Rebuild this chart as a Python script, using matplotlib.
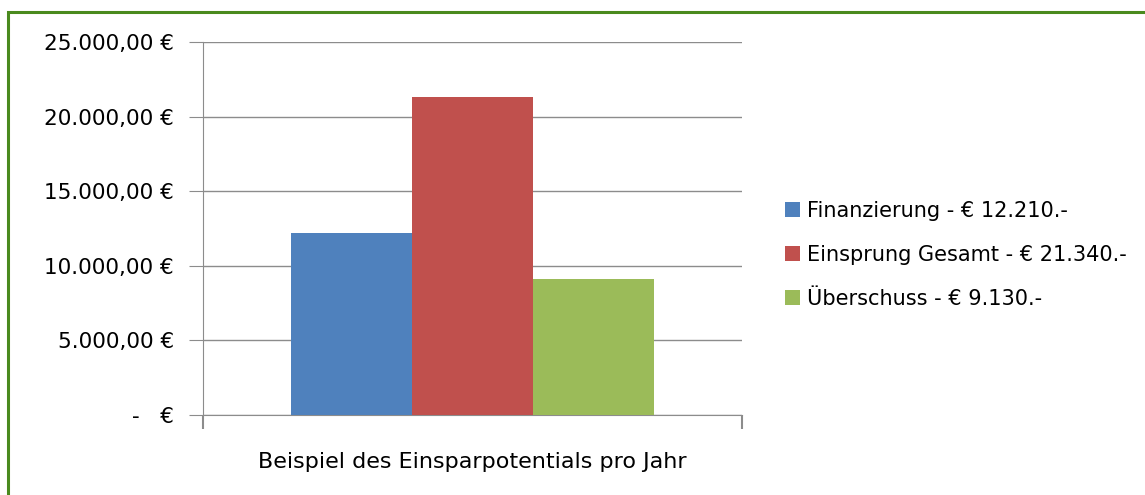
import matplotlib.pyplot as plt
from matplotlib.patches import Rectangle
from matplotlib.ticker import FuncFormatter

plt.rcParams['font.family'] = ['DejaVu Sans']

category = 'Beispiel des Einsparpotentials pro Jahr'
series = ['Finanzierung - € 12.210.-', 'Einsprung Gesamt - € 21.340.-', 'Überschuss - € 9.130.-']
values = [12210, 21340, 9130]
colors = ['#4f81bd', '#c0504d', '#9bbb59']
yticks = [0, 5000, 10000, 15000, 20000, 25000]

fig = plt.figure(figsize=(11.45, 4.95), dpi=100)
ax = fig.add_axes([203 / 1145, 80 / 495, 539 / 1145, 373 / 495])

width = 0.2245
for i, (name, val, col) in enumerate(zip(series, values, colors)):
    ax.bar((i - 1) * width, val, width=width, color=col, label=name, zorder=3)

ax.set_xlim(-0.5, 0.5)
ax.set_ylim(0, 25000)
ax.set_yticks(yticks)


def euro(v, pos):
    if v == 0:
        return '-   €'
    s = f'{v:,.2f}'.replace(',', 'X').replace('.', ',').replace('X', '.')
    return s + ' €'


ax.yaxis.set_major_formatter(FuncFormatter(euro))
ax.grid(axis='y', color='#8c8c8c', linewidth=1, zorder=0)
for side in ['top', 'right']:
    ax.spines[side].set_visible(False)
for side in ['left', 'bottom']:
    ax.spines[side].set_color('#8c8c8c')
ax.tick_params(axis='y', length=10, color='#8c8c8c', labelsize=15.5, pad=11)

ax.set_xticks([0])
ax.set_xticklabels([category], fontsize=16)
ax.tick_params(axis='x', which='major', length=0, pad=27)
ax.set_xticks([-0.5, 0.5], minor=True)
ax.tick_params(axis='x', which='minor', length=10, color='#8c8c8c', width=1.5)

ax.legend(loc='center left', bbox_to_anchor=(785 / 1145, 1 - 255 / 495),
          bbox_transform=fig.transFigure, frameon=False, borderpad=0, borderaxespad=0,
          fontsize=15, handlelength=0.7, handleheight=0.7, handletextpad=0.35,
          labelspacing=1.15)

fig.patches.append(Rectangle((8 / 1145, -0.1), 1.2, 0.1 + 483 / 495, transform=fig.transFigure,
                             fill=False, edgecolor='#4a8a1e', linewidth=2.2))

fig.savefig('out.png', dpi=100)
